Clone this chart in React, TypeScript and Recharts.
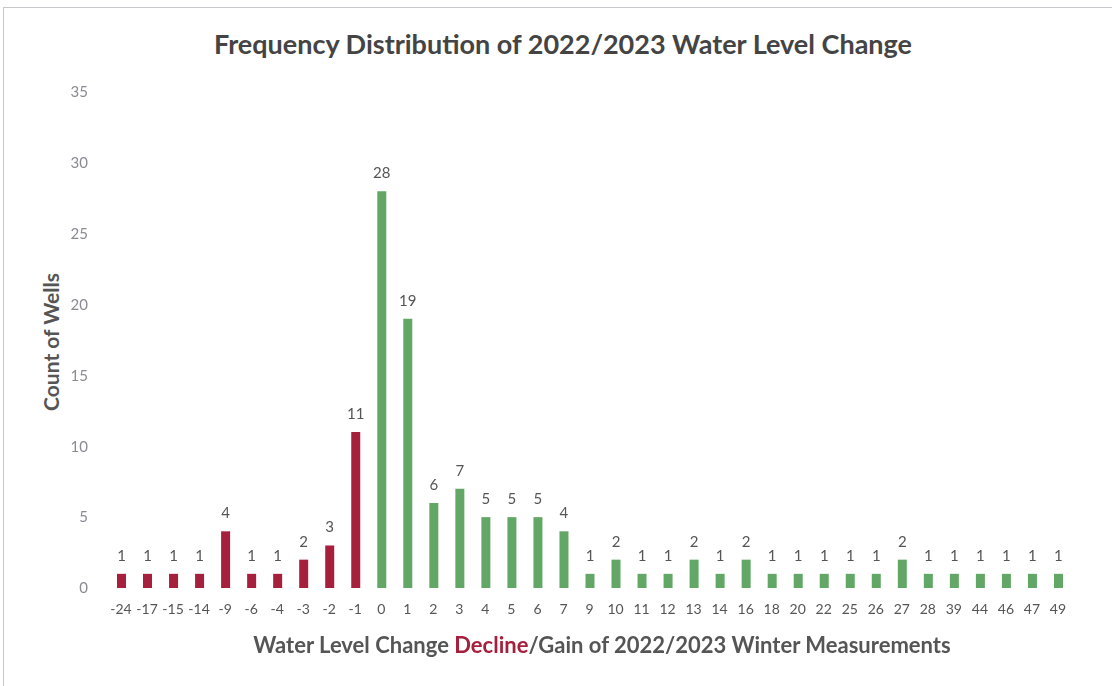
import { Bar, BarChart, Cell, LabelList, XAxis, YAxis } from "recharts";

const changes = [
  -24, -17, -15, -14, -9, -6, -4, -3, -2, -1, 0, 1, 2, 3, 4, 5, 6, 7, 9, 10, 11, 12, 13, 14, 16, 18, 20, 22, 25, 26,
  27, 28, 39, 44, 46, 47, 49,
];
const wellCounts = [
  1, 1, 1, 1, 4, 1, 1, 2, 3, 11, 28, 19, 6, 7, 5, 5, 5, 4, 1, 2, 1, 1, 2, 1, 2, 1, 1, 1, 1, 1, 2, 1, 1, 1, 1, 1, 1,
];
const yTicks = [0, 5, 10, 15, 20, 25, 30, 35];

const DECLINE = "#a61f3d";
const GAIN = "#62a766";
const FONT = "Lato, 'Open Sans', sans-serif";

const data = changes.map((c, i) => ({ change: String(c), count: wellCounts[i], decline: c < 0 }));

export default function App() {
  return (
    <div
      style={{
        position: "fixed",
        top: 0,
        left: 0,
        width: 1112,
        height: 686,
        background: "#fff",
        fontFamily: FONT,
      }}
    >
      <div
        style={{
          position: "absolute",
          left: 3,
          top: 7,
          width: 1120,
          height: 690,
          border: "1px solid #c8c8cc",
        }}
      />
      <div
        style={{
          position: "absolute",
          top: 27,
          left: 0,
          width: 1126,
          textAlign: "center",
          fontSize: 27,
          fontWeight: 700,
          color: "#444",
        }}
      >
        Frequency Distribution of 2022/2023 Water Level Change
      </div>
      <div
        style={{
          position: "absolute",
          left: 50,
          top: 342,
          transform: "translate(-50%, -50%) rotate(-90deg)",
          whiteSpace: "nowrap",
          fontSize: 21,
          fontWeight: 700,
          color: "#555",
        }}
      >
        Count of Wells
      </div>
      <div
        style={{
          position: "absolute",
          top: 631,
          left: 0,
          width: 1204,
          textAlign: "center",
          fontSize: 22,
          fontWeight: 700,
          color: "#555",
        }}
      >
        Water Level Change <span style={{ color: DECLINE }}>Decline</span>/Gain of 2022/2023 Winter Measurements
      </div>
      <div style={{ position: "absolute", top: 0, left: 0 }}>
        <BarChart
          width={1112}
          height={686}
          data={data}
          margin={{ top: 92, right: 41, bottom: 68, left: 0 }}
          barSize={9}
        >
          <XAxis
            dataKey="change"
            interval={0}
            axisLine={false}
            tickLine={false}
            tickSize={0}
            tickMargin={16}
            tick={{ fill: "#555", fontSize: 14, fontFamily: FONT }}
          />
          <YAxis
            width={108}
            domain={[0, 35]}
            ticks={yTicks}
            axisLine={false}
            tickLine={false}
            tickSize={0}
            tickMargin={20}
            tick={{ fill: "#8a8a95", fontSize: 15, fontFamily: FONT }}
          />
          <Bar dataKey="count" isAnimationActive={false}>
            {data.map((d) => (
              <Cell key={d.change} fill={d.decline ? DECLINE : GAIN} />
            ))}
            <LabelList
              dataKey="count"
              position="top"
              offset={13}
              style={{ fill: "#555", fontSize: 15, fontFamily: FONT }}
            />
          </Bar>
        </BarChart>
      </div>
    </div>
  );
}
